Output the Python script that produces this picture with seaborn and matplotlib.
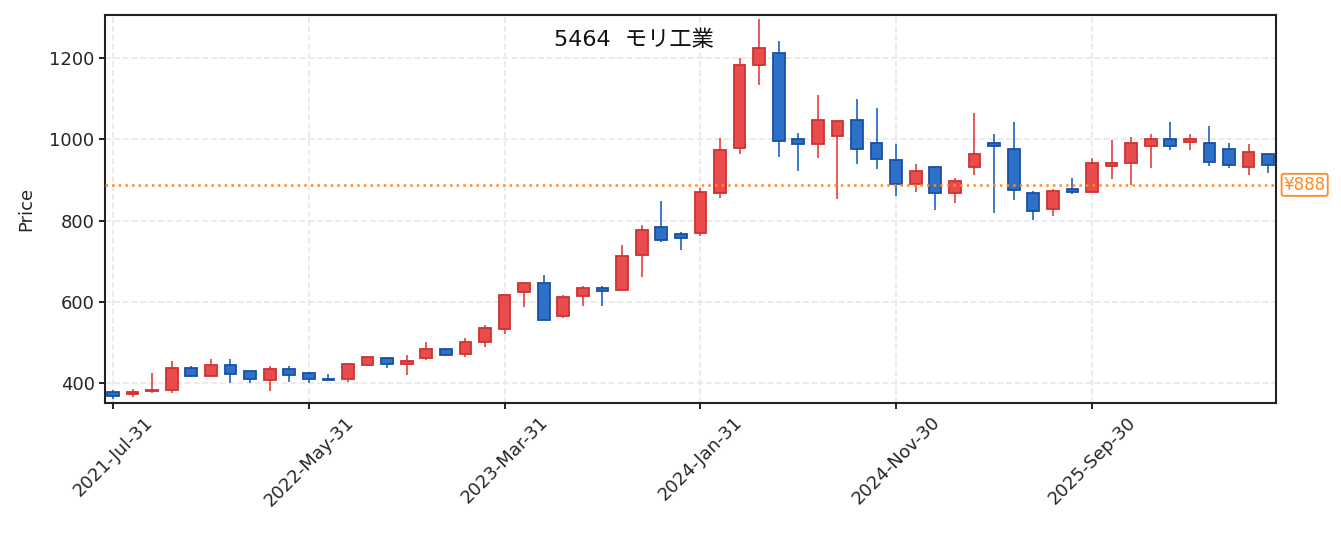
import matplotlib
matplotlib.use('Agg')
import matplotlib.pyplot as plt
import matplotlib.transforms as mtransforms
import seaborn as sns
import pandas as pd
import numpy as np

# Datos del gráfico (velas mensuales)
ticker_code = '5464'
company_name = 'モリ工業'
ref_price = 888

opens = [379, 372, 381, 383, 438, 418, 444, 429, 408, 434,
         424, 410, 410, 445, 462, 446, 461, 483, 471, 500,
         534, 625, 646, 566, 614, 634, 628, 716, 783, 767,
         770, 869, 978, 1182, 1213, 1001, 988, 1008, 1047, 990,
         948, 890, 933, 867, 931, 990, 977, 869, 828, 877,
         870, 934, 942, 984, 1001, 993, 992, 975, 931, 963]
highs = [383, 386, 424, 455, 442, 460, 460, 429, 442, 442,
         427, 423, 447, 465, 462, 468, 501, 486, 510, 543,
         617, 650, 667, 616, 639, 639, 740, 790, 848, 772,
         879, 1003, 1199, 1296, 1242, 1015, 1109, 1044, 1099, 1078,
         988, 939, 933, 904, 1065, 1014, 1042, 873, 877, 905,
         955, 998, 1006, 1013, 1042, 1014, 1033, 990, 988, 963]
lows = [362, 366, 375, 375, 414, 417, 399, 401, 381, 403,
        401, 406, 403, 441, 437, 419, 457, 469, 463, 489,
        520, 587, 556, 560, 589, 589, 628, 661, 747, 727,
        763, 856, 964, 1134, 957, 923, 955, 854, 939, 927,
        861, 871, 825, 844, 912, 819, 851, 801, 811, 865,
        870, 903, 887, 930, 974, 974, 935, 930, 912, 918]
closes = [368, 377, 384, 438, 418, 444, 423, 411, 434, 419,
          411, 407, 447, 465, 446, 454, 483, 469, 502, 536,
          617, 646, 556, 612, 635, 626, 712, 776, 752, 757,
          871, 973, 1182, 1224, 995, 988, 1047, 1044, 976, 951,
          890, 923, 867, 898, 963, 983, 876, 823, 872, 870,
          942, 942, 992, 1001, 983, 1001, 943, 937, 968, 936]

months = pd.period_range('2021-07', periods=len(opens), freq='M')
date_labels = [p.end_time.strftime('%Y-%b-%d') for p in months]

# Colores
up_fill, up_edge = '#e84c4c', '#cf3232'
down_fill, down_edge = '#2c70c8', '#1a4fa3'
ref_color = '#ff8a24'

# Configurar estilo
sns.set_theme(style='ticks')
plt.rcParams['font.family'] = ['DejaVu Sans', 'Noto Sans CJK JP']
plt.rcParams['axes.unicode_minus'] = False

df = pd.DataFrame({'date': date_labels, 'open': opens, 'high': highs,
                   'low': lows, 'close': closes})
df['x'] = np.arange(len(df))
df['up'] = df['close'] >= df['open']
df['body_low'] = df[['open', 'close']].min(axis=1)
df['body_h'] = (df['close'] - df['open']).abs()

fig = plt.figure(figsize=(13.41, 5.33), dpi=100)
ax = fig.add_axes([105 / 1341, 1 - 403 / 533, 1171 / 1341, 388 / 533])

# Mechas
ax.vlines(df['x'], df['low'], df['high'],
          colors=np.where(df['up'], up_fill, down_fill), linewidth=1.3, zorder=2)

# Cuerpos
ax.bar(df['x'], df['body_h'], bottom=df['body_low'], width=0.6,
       color=np.where(df['up'], up_fill, down_fill),
       edgecolor=np.where(df['up'], up_edge, down_edge),
       linewidth=1.3, zorder=3)

# Línea de referencia
ax.axhline(ref_price, color=ref_color, linestyle=':', linewidth=1.8, zorder=4)
trans = mtransforms.blended_transform_factory(ax.transAxes, ax.transData)
ax.text(1.0065, ref_price, f'¥{ref_price}', transform=trans, ha='left', va='center',
        color=ref_color, fontsize=12, clip_on=False,
        bbox=dict(boxstyle='round,pad=0.12', fc='white', ec=ref_color, lw=1.3))

# Ejes
ax.set_xlim(-0.41, len(df) - 0.6)
ax.set_ylim(351, 1306)
ax.set_yticks([400, 600, 800, 1000, 1200])
tick_pos = df['x'][::10]
ax.set_xticks(tick_pos)
ax.set_xticklabels(df['date'][::10], rotation=45, fontsize=13)
ax.tick_params(axis='y', labelsize=13)
ax.tick_params(axis='both', length=4, width=1.4, color='#222222')
ax.set_ylabel('Price', fontsize=13, labelpad=10)
ax.grid(True, linestyle='--', color='#e8e8e8', linewidth=1.2, zorder=0)
ax.set_axisbelow(True)
for s in ax.spines.values():
    s.set_visible(True)
    s.set_color('#222222')
    s.set_linewidth(1.5)

fig.text(634 / 1341, 1 - 40 / 533, f'{ticker_code}  {company_name}',
         ha='center', va='center', fontsize=16, color='#111111')

plt.savefig('out.png', dpi=100)
plt.close()
